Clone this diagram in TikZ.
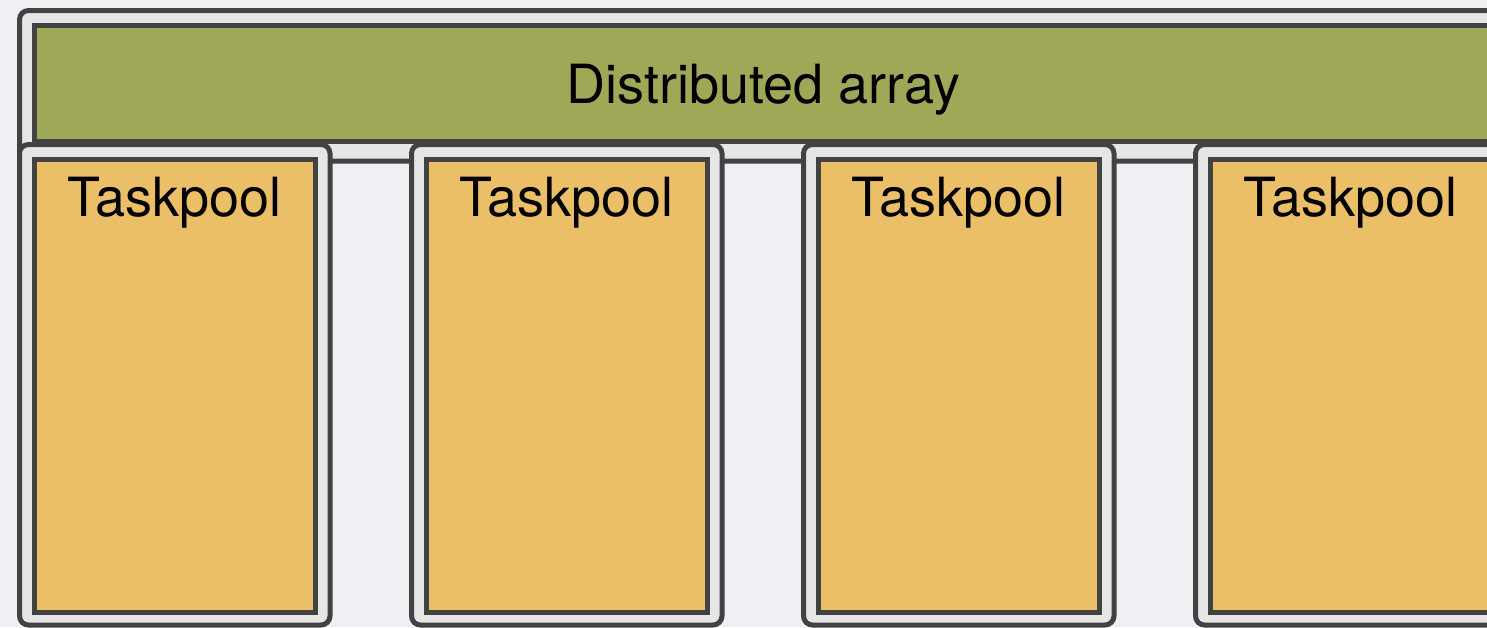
\documentclass[tikz,border=0pt]{standalone}
\usepackage{fontspec}
\setmainfont{TeX Gyre Heros}
\usepackage{tikz}

\definecolor{bgcol}{HTML}{EEF0F4}
\definecolor{rimcol}{HTML}{E6E6E6}
\definecolor{edgecol}{HTML}{424242}
\definecolor{arraycol}{HTML}{9EA857}
\definecolor{poolcol}{HTML}{EBBF68}

\tikzset{
    rim/.style={draw=edgecol, fill=rimcol, line width=5pt, rounded corners=9pt,
        inner sep=0pt, outer sep=0pt},
    arraybar/.style={draw=edgecol, fill=arraycol, line width=5pt, inner sep=0pt,
        outer sep=0pt, minimum width=1457.5pt, minimum height=116pt},
    poolbox/.style={draw=edgecol, fill=poolcol, line width=5pt, inner sep=0pt,
        outer sep=0pt, minimum width=280.5pt, minimum height=453pt},
}

\begin{document}
\begin{tikzpicture}[x=1pt, y=-1pt, font=\fontsize{54}{64}\selectfont]
    \useasboundingbox[fill=bgcol] (0,0) rectangle (1487,627);
    \clip (0,0) rectangle (1487,627);
    % distributed array across the pools
    \node(outer)[rim, minimum width=1500.5pt, minimum height=150.5pt] at (769.75,85.75) {};
    \node(array)[arraybar] at (763.25,83.5) {};
    \node(arraytext)[anchor=base] at (763.25,103.5) {Distributed array};
    % one taskpool per process
    \foreach \i [evaluate=\i as \x using 174.75+392*(\i-1)] in {1,...,4} {
        \node(frame\i)[rim, minimum width=310.5pt, minimum height=480.5pt] at (\x,384.75) {};
        \node(pool\i)[poolbox] at (\x,386) {};
        \node(pooltext\i)[anchor=base] at (\x,216.7) {Taskpool};
    }
\end{tikzpicture}
\end{document}
